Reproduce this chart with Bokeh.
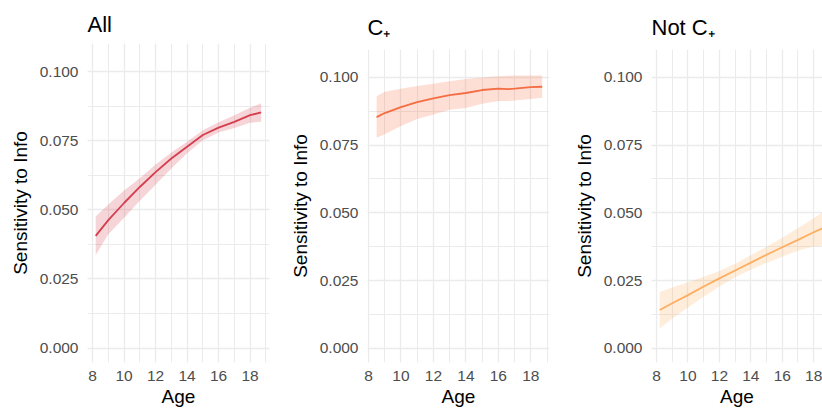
from bokeh.plotting import figure
from bokeh.layouts import row, column
from bokeh.models import SingleIntervalTicker, PrintfTickFormatter, Range1d
from bokeh.embed import file_html
from bokeh.resources import INLINE

# ---- data ----
titles = ["All", "C\u208a", "Not C\u208a"]
colors = ["#D53E4F", "#F46D43", "#FDAE61"]

age_all = [8.2, 9, 10, 11, 12, 13, 14, 15, 16, 17, 18, 18.7]
mean_all = [0.0406, 0.0463, 0.0525, 0.0583, 0.0637, 0.0686, 0.0729, 0.0771, 0.0798, 0.0819, 0.0843, 0.0853]
lower_all = [0.0337, 0.0412, 0.0472, 0.0533, 0.0591, 0.0650, 0.0705, 0.0752, 0.0780, 0.0797, 0.0816, 0.0819]
upper_all = [0.0476, 0.0520, 0.0570, 0.0615, 0.0664, 0.0708, 0.0747, 0.0788, 0.0817, 0.0843, 0.0870, 0.0886]

age_c = [8.5, 9, 10, 11, 12, 13, 14, 15, 16, 16.6, 17, 18, 18.7]
mean_c = [0.0853, 0.0868, 0.0890, 0.0908, 0.0922, 0.0934, 0.0942, 0.0953, 0.0958, 0.0956, 0.0958, 0.0964, 0.0965]
lower_c = [0.0777, 0.0790, 0.0820, 0.0846, 0.0863, 0.0880, 0.0887, 0.0902, 0.0912, 0.0912, 0.0914, 0.0920, 0.0924]
upper_c = [0.0930, 0.0947, 0.0958, 0.0968, 0.0976, 0.0985, 0.0994, 0.0999, 0.1004, 0.1006, 0.1007, 0.1007, 0.1007]

age_nc = [8.2, 9, 10, 11, 12, 13, 14, 15, 16, 17, 18, 18.7]
mean_nc = [0.0141, 0.0166, 0.0196, 0.0228, 0.0258, 0.0287, 0.0316, 0.0345, 0.0373, 0.0400, 0.0428, 0.0447]
lower_nc = [0.0073, 0.0110, 0.0150, 0.0190, 0.0228, 0.0262, 0.0290, 0.0315, 0.0338, 0.0360, 0.0376, 0.0379]
upper_nc = [0.0208, 0.0224, 0.0244, 0.0264, 0.0285, 0.0312, 0.0343, 0.0375, 0.0408, 0.0444, 0.0480, 0.0508]

x_label = "Age"
y_label = "Sensitivity to Info"

FONT = "Liberation Sans"
GRID = "#EBEBEB"


def make_panel(title, color, ages, mean, lower, upper, x_range, width, height,
               left, right, top, bottom, title_standoff):
    p = figure(width=width, height=height, output_backend="svg", toolbar_location=None,
               x_range=Range1d(*x_range), y_range=Range1d(-0.00525, 0.11025),
               min_border_left=left, min_border_right=right,
               min_border_top=top, min_border_bottom=bottom)
    p.title.text = title
    p.title.text_font = FONT
    p.title.text_font_size = "22px"
    p.title.text_font_style = "normal"
    p.title.text_color = "#000000"
    p.title.align = "left"
    p.title.offset = 0
    p.title.standoff = title_standoff
    p.outline_line_color = None
    p.background_fill_color = "white"
    p.border_fill_color = "white"

    p.xaxis.ticker = SingleIntervalTicker(interval=2, num_minor_ticks=2)
    p.yaxis.ticker = SingleIntervalTicker(interval=0.025, num_minor_ticks=2)
    p.yaxis.formatter = PrintfTickFormatter(format="%.3f")
    for ax in (p.xaxis, p.yaxis):
        ax.axis_line_color = None
        ax.major_tick_line_color = None
        ax.minor_tick_line_color = None
        ax.major_tick_out = 0
        ax.major_tick_in = 0
        ax.minor_tick_out = 0
        ax.minor_tick_in = 0
        ax.major_label_text_font = FONT
        ax.major_label_text_font_size = "15.5px"
        ax.major_label_text_color = "#4D4D4D"
        ax.axis_label_text_font = FONT
        ax.axis_label_text_font_size = "19px"
        ax.axis_label_text_font_style = "normal"
        ax.axis_label_text_color = "#000000"
    p.xaxis.axis_label = x_label
    p.yaxis.axis_label = y_label
    p.xaxis.major_label_standoff = 8
    p.xaxis.axis_label_standoff = 2
    p.yaxis.major_label_standoff = 9
    p.yaxis.axis_label_standoff = 6

    for g in (p.xgrid, p.ygrid):
        g.grid_line_color = GRID
        g.grid_line_width = 1.3
        g.minor_grid_line_color = GRID
        g.minor_grid_line_width = 1.0

    p.varea(x=ages, y1=lower, y2=upper, fill_color=color, fill_alpha=0.22)
    p.line(x=ages, y=mean, line_color=color, line_width=1.8)
    return p


p1 = make_panel(titles[0], colors[0], age_all, mean_all, lower_all, upper_all,
                (7.68, 19.23), 280, 409, 87, 11, 43, 47, 14)
p2 = make_panel(titles[1], colors[1], age_c, mean_c, lower_c, upper_c,
                (7.94, 19.15), 280, 409, 87, 11, 49, 47, 20)
p3 = make_panel(titles[2], colors[2], age_nc, mean_nc, lower_nc, upper_nc,
                (7.68, 18.56), 262, 409, 91, 0, 49, 47, 20)

layout = row(column(p1), column(p2), column(p3), spacing=0)

with open("out.html", "w") as f:
    f.write(file_html(layout, INLINE))
